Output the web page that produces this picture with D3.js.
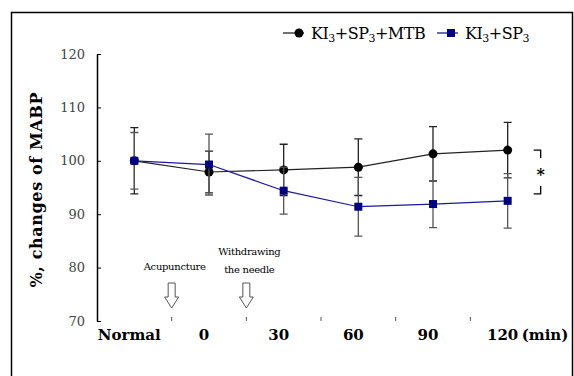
<!DOCTYPE html>
<html>
<head>
<meta charset="utf-8">
<title>MABP changes</title>
<script src="https://d3js.org/d3.v7.min.js"></script>
<style>
  body { margin: 0; background: #fff; }
  svg { display: block; }
  text { font-family: "DejaVu Serif", "Liberation Serif", serif; }
</style>
</head>
<body>
<script>
// data
var categories = ["Normal", "0", "30", "60", "90", "120"];
var mtbMean = [100, 97.9, 98.3, 98.8, 101.3, 102.0];
var mtbErr = [6.2, 3.9, 4.8, 5.3, 5.1, 5.2];
var spMean = [100, 99.3, 94.4, 91.4, 91.9, 92.5];
var spErr = [5.3, 5.7, 4.4, 5.5, 4.4, 5.1];
var yTicks = [70, 80, 90, 100, 110, 120];

var W = 574, H = 376;
var svg = d3.select("body").append("svg")
    .attr("width", W)
    .attr("height", H);

// outer frame (bottom edge falls outside the picture)
svg.append("rect")
    .attr("x", 11.5).attr("y", 12.5)
    .attr("width", 561).attr("height", 372)
    .attr("fill", "none")
    .attr("stroke", "#000")
    .attr("stroke-width", 1.5);

var x = d3.scaleBand().domain(categories).range([97, 545]);
var y = d3.scaleLinear().domain([70, 120]).range([321, 54]);
var cx = function(c) { return x(c) + x.bandwidth() / 2; };

// y axis
var yAxis = svg.append("g")
    .attr("transform", "translate(97,0)")
    .call(d3.axisLeft(y).tickValues(yTicks).tickSizeInner(-4).tickSizeOuter(0).tickPadding(12));
yAxis.select(".domain").attr("stroke", "#000").attr("stroke-width", 1.5);
yAxis.selectAll(".tick line").attr("stroke", "#000");
yAxis.selectAll(".tick text")
    .attr("font-size", 13)
    .attr("fill", "#444");

svg.append("text")
    .attr("transform", "translate(42,190) rotate(-90)")
    .attr("text-anchor", "middle")
    .attr("font-weight", "bold")
    .attr("font-size", 16)
    .attr("textLength", 195)
    .attr("lengthAdjust", "spacing")
    .text("%, changes of MABP");

// x ticks between categories, no baseline
svg.selectAll(".xtick")
    .data(categories.slice(1))
    .enter().append("line")
    .attr("class", "xtick")
    .attr("x1", function(d) { return x(d); })
    .attr("x2", function(d) { return x(d); })
    .attr("y1", 317).attr("y2", 321)
    .attr("stroke", "#555");

svg.selectAll(".xlab")
    .data(categories)
    .enter().append("text")
    .attr("class", "xlab")
    .attr("x", function(d) { return cx(d) - 5; })
    .attr("y", 340)
    .attr("text-anchor", "middle")
    .attr("font-weight", "bold")
    .attr("font-size", 15)
    .text(function(d) { return d; });
svg.append("text")
    .attr("x", cx("120") + 14)
    .attr("y", 340)
    .attr("font-weight", "bold")
    .attr("font-size", 15)
    .text("(min)");

// arrows for acupuncture / withdrawing
var notes = [
  {at: "0", lines: ["Acupuncture"], top: 270},
  {at: "30", lines: ["Withdrawing", "the needle"], top: 255}
];
notes.forEach(function(n) {
  var ax = x(n.at);
  var t = svg.append("text")
      .attr("text-anchor", "middle")
      .attr("font-size", 10)
      .attr("letter-spacing", -0.3);
  n.lines.forEach(function(l, i) {
    t.append("tspan").attr("x", ax + 3).attr("y", n.top + i * 18).text(l);
  });
  svg.append("path")
      .attr("d", "M" + (ax - 3.5) + ",283V297H" + (ax - 7) + "L" + ax + ",308L" + (ax + 7) + ",297H" + (ax + 3.5) + "V283Z")
      .attr("fill", "#fff")
      .attr("stroke", "#555")
      .attr("stroke-width", 1);
});

function series(mean, err, lineColor, barColor) {
  var pts = categories.map(function(c, i) { return {c: c, m: mean[i], e: err[i]}; });
  var g = svg.append("g");
  g.selectAll(".bar").data(pts).enter().append("path")
      .attr("d", function(d) {
        var px = cx(d.c), t = y(d.m + d.e), b = y(d.m - d.e);
        return "M" + px + "," + t + "V" + b +
               "M" + (px - 4) + "," + t + "H" + (px + 4) +
               "M" + (px - 4) + "," + b + "H" + (px + 4);
      })
      .attr("stroke", barColor)
      .attr("stroke-width", 1.3)
      .attr("fill", "none");
  g.append("path")
      .datum(pts)
      .attr("d", d3.line().x(function(d) { return cx(d.c); }).y(function(d) { return y(d.m); }))
      .attr("fill", "none")
      .attr("stroke", lineColor)
      .attr("stroke-width", 1.2);
  return {g: g, pts: pts};
}

var s1 = series(mtbMean, mtbErr, "#222", "#222");
var s2 = series(spMean, spErr, "#1a1a9a", "#555");

s1.g.selectAll("circle").data(s1.pts).enter().append("circle")
    .attr("cx", function(d) { return cx(d.c); })
    .attr("cy", function(d) { return y(d.m); })
    .attr("r", 4.5)
    .attr("fill", "#000");
s2.g.selectAll("rect").data(s2.pts).enter().append("rect")
    .attr("x", function(d) { return cx(d.c) - 4; })
    .attr("y", function(d) { return y(d.m) - 4; })
    .attr("width", 8).attr("height", 8)
    .attr("fill", "#000080");

// significance bracket
var bx = cx("120") + 26;
var bt = y(102.0), bb = y(93.8);
svg.append("path")
    .attr("d", "M" + bx + "," + bt + "H" + (bx + 7) + "V" + (bt + 8) +
               "M" + bx + "," + bb + "H" + (bx + 7) + "V" + (bb - 8))
    .attr("fill", "none")
    .attr("stroke", "#000")
    .attr("stroke-width", 1.3);
svg.append("text")
    .attr("x", bx + 7).attr("y", (bt + bb) / 2 + 8)
    .attr("text-anchor", "middle")
    .attr("font-weight", "bold")
    .attr("font-size", 16)
    .text("*");

// legend
var legend = [
  {name: "KI", sub: "3", rest: ["+SP", "3", "+MTB"], x: 283, shape: "circle", line: "#222"},
  {name: "KI", sub: "3", rest: ["+SP", "3"], x: 437, shape: "square", line: "#1a1a9a"}
];
legend.forEach(function(l) {
  svg.append("line")
      .attr("x1", l.x).attr("x2", l.x + 21)
      .attr("y1", 33).attr("y2", 33)
      .attr("stroke", l.line).attr("stroke-width", 1.3);
  if (l.shape === "circle") {
    svg.append("circle").attr("cx", l.x + 16).attr("cy", 33).attr("r", 4.5).attr("fill", "#000");
  } else {
    svg.append("rect").attr("x", l.x + 10).attr("y", 29).attr("width", 8).attr("height", 8).attr("fill", "#000080");
  }
  var t = svg.append("text")
      .attr("x", l.x + 28).attr("y", 39)
      .attr("font-size", 16)
      .attr("letter-spacing", -0.5);
  t.append("tspan").text(l.name);
  t.append("tspan").attr("font-size", 11).attr("dy", 3).text(l.sub);
  for (var i = 0; i < l.rest.length; i++) {
    var isSub = i % 2 === 1;
    t.append("tspan")
        .attr("font-size", isSub ? 11 : 16)
        .attr("dy", isSub ? 3 : -3)
        .text(l.rest[i]);
  }
});
</script>
</body>
</html>
